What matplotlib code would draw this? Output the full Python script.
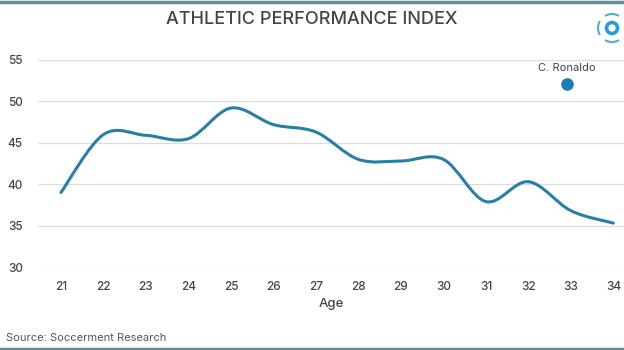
import matplotlib
matplotlib.use("Agg")
import matplotlib.pyplot as plt
import numpy as np
from matplotlib.path import Path
from matplotlib.patches import PathPatch, Circle, Arc

# data
ages = [21, 22, 23, 24, 25, 26, 27, 28, 29, 30, 31, 32, 33, 34]
index_values = [39.0, 46.0, 45.9, 45.5, 49.2, 47.2, 46.3, 43.0, 42.8, 43.0, 37.9, 40.3, 36.8, 35.3]
ronaldo_age = 32.9
ronaldo_value = 52.1
y_ticks = [30, 35, 40, 45, 50, 55]

plt.rcParams['font.family'] = ['Inter', 'DejaVu Sans']

line_color = '#2a7ea6'
text_color = '#444444'

fig = plt.figure(figsize=(6.24, 3.5), dpi=100)
ax = fig.add_axes([38 / 624, 1 - 267 / 350, 1 - 38 / 624, (267 - 60) / 350])

# smooth line through the points (catmull-rom -> bezier)
pts = np.column_stack([ages, index_values])
verts = [pts[0]]
codes = [Path.MOVETO]
for i in range(len(pts) - 1):
    p0 = pts[max(i - 1, 0)]
    p1 = pts[i]
    p2 = pts[i + 1]
    p3 = pts[min(i + 2, len(pts) - 1)]
    c1 = p1 + (p2 - p0) / 6.0
    c2 = p2 - (p3 - p1) / 6.0
    verts += [c1, c2, p2]
    codes += [Path.CURVE4] * 3
ax.add_patch(PathPatch(Path(verts, codes), facecolor='none', edgecolor=line_color,
                       lw=2.2, capstyle='round', joinstyle='round', zorder=3))

ax.scatter([ronaldo_age], [ronaldo_value], s=65, color='#1f7db5', zorder=4)
ax.annotate('C. Ronaldo', (ronaldo_age, ronaldo_value), xytext=(0, 8),
            textcoords='offset points', ha='center', va='bottom',
            fontsize=8, color=text_color)

ax.set_xlim(20.46, 34.25)
ax.set_ylim(30, 55)
ax.set_xticks(ages)
ax.set_yticks(y_ticks)
ax.grid(axis='y', color='#dcdcdc', lw=0.9)
ax.set_axisbelow(True)
for s in ax.spines.values():
    s.set_visible(False)
ax.tick_params(length=0, labelsize=8.5, colors=text_color)
ax.tick_params(axis='x', pad=10)
ax.tick_params(axis='y', pad=11)
for lab in ax.get_xticklabels() + ax.get_yticklabels():
    lab.set_fontweight('medium')
ax.set_xlabel('Age', fontsize=9.5, color=text_color, labelpad=4, fontweight='medium')

fig.text(0.5, 1 - 20 / 350, 'ATHLETIC PERFORMANCE INDEX', ha='center', va='center',
         fontsize=13, color=text_color, fontweight='medium')
fig.text(6 / 624, 1 - 338 / 350, 'Source: Soccerment Research', ha='left', va='center',
         fontsize=8, color='#555555')

# top and bottom frame bars
fig.add_artist(plt.Line2D([0, 1], [1 - 1.5 / 350, 1 - 1.5 / 350], color='#5f8f9a', lw=2.5))
fig.add_artist(plt.Line2D([0, 1], [1.5 / 350, 1.5 / 350], color='#5f8f9a', lw=2.5))

# small logo at top right
lax = fig.add_axes([596 / 624, 1 - 46 / 350, 32 / 624, 36 / 350])
lax.set_xlim(-16, 16)
lax.set_ylim(-18, 18)
lax.set_aspect('equal')
lax.axis('off')
lax.add_patch(Circle((0, 0), 5.5, fill=False, lw=2.6, color='#2b9bd1'))
for a1, a2 in [(60, 120), (150, 210), (240, 300)]:
    lax.add_patch(Arc((0, 0), 28, 28, theta1=a1, theta2=a2, lw=1.5, color='#4fb0c6'))

fig.savefig('out.png', dpi=100)
